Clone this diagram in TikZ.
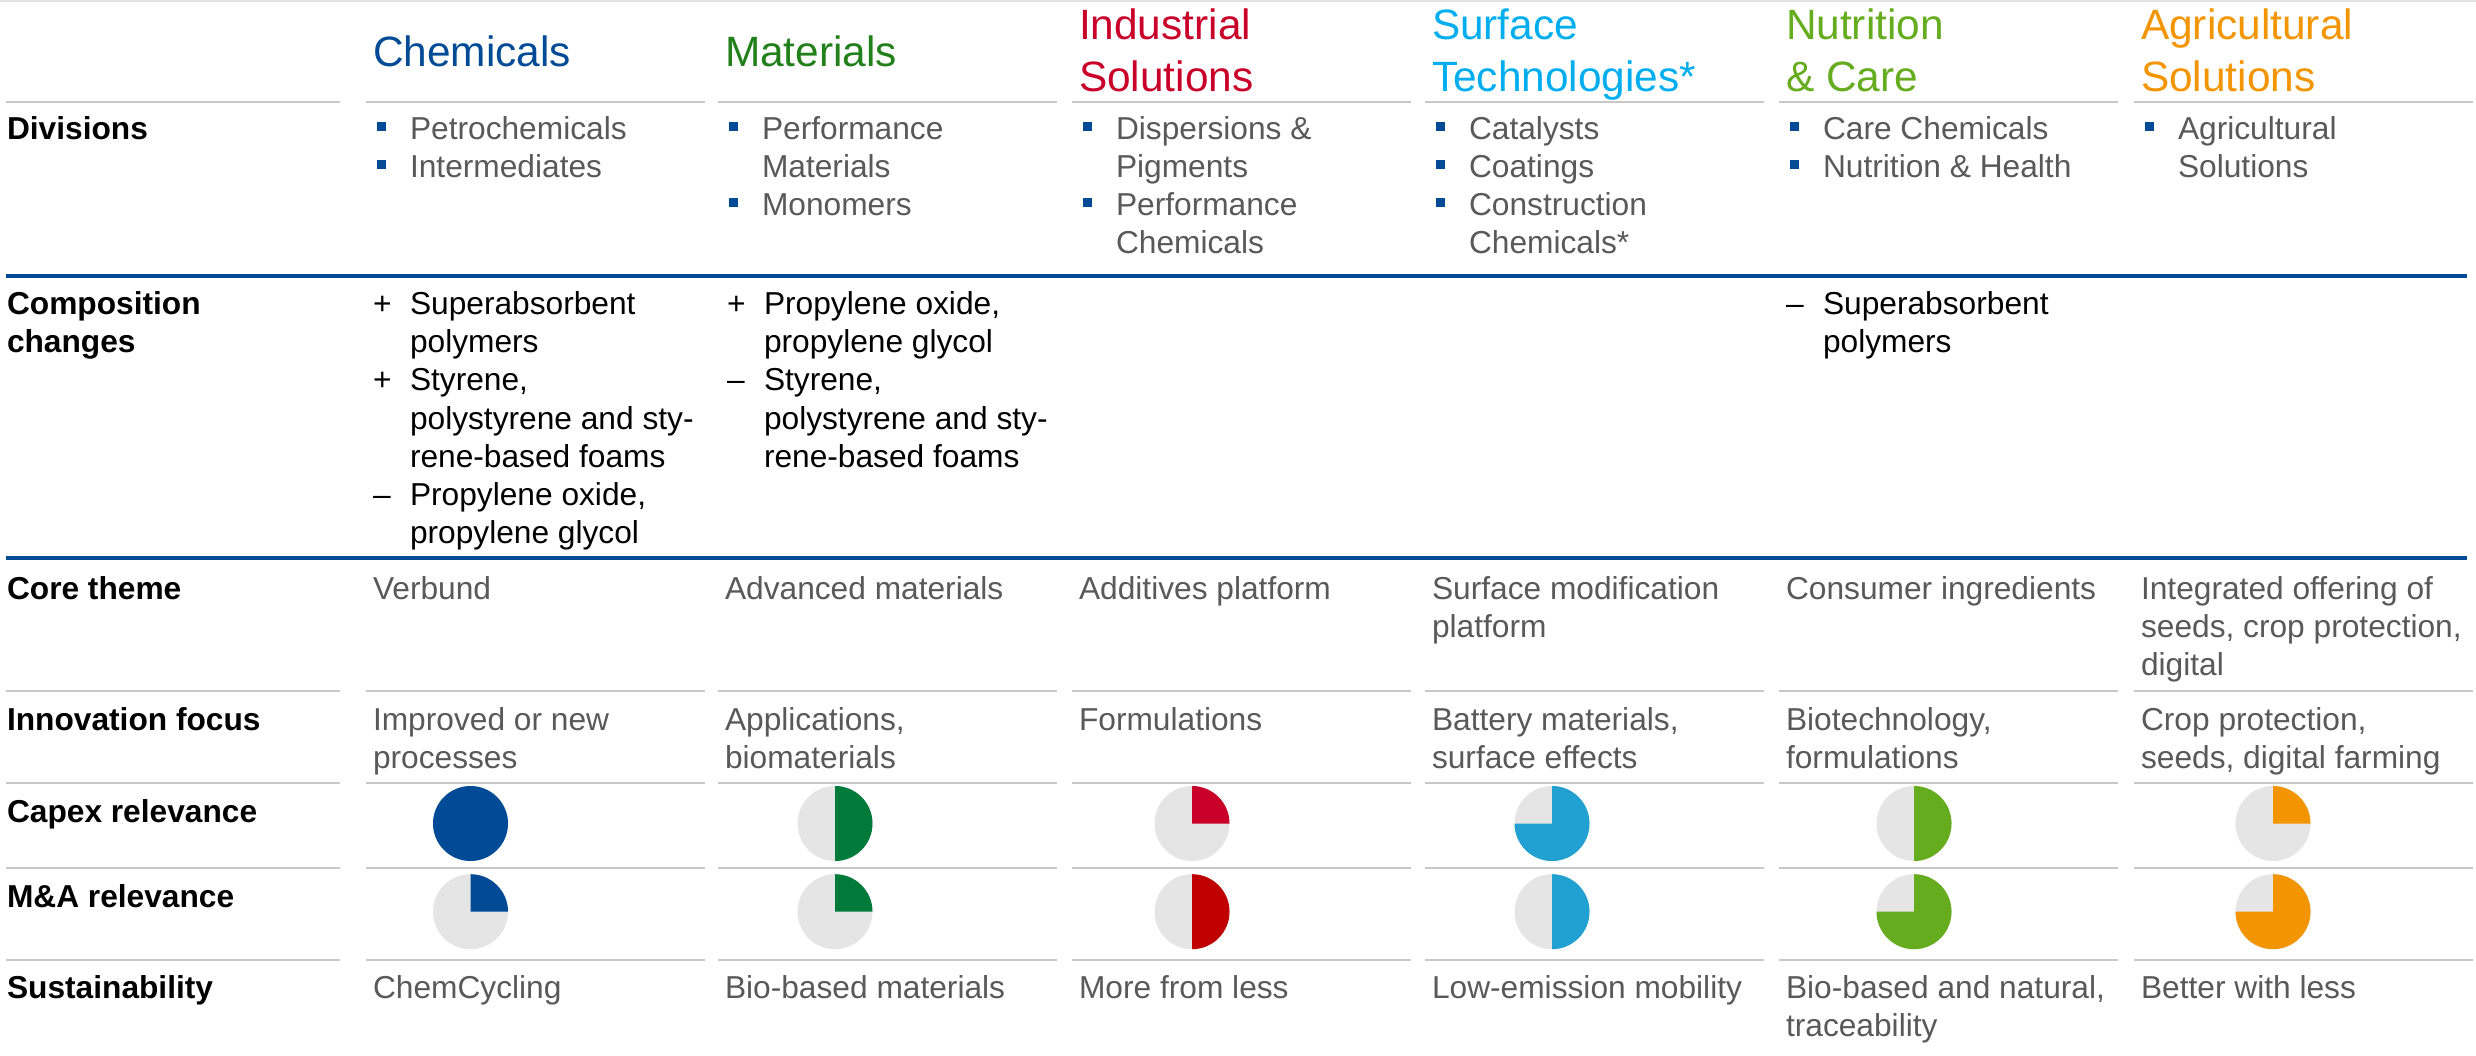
\documentclass[tikz,border=0pt]{standalone}
\usepackage{fontspec}
\setmainfont{Liberation Sans}
\definecolor{basfblue}{HTML}{004A96}
\definecolor{bodygray}{HTML}{595959}
\definecolor{linegray}{HTML}{C8C8C8}
\definecolor{toplinegray}{HTML}{E3E3E3}
\definecolor{piegray}{HTML}{E5E5E5}
\definecolor{hChem}{HTML}{004A96}
\definecolor{hMat}{HTML}{21801A}
\definecolor{pMat}{HTML}{007A3B}
\definecolor{hInd}{HTML}{C8002A}
\definecolor{pIndB}{HTML}{C00000}
\definecolor{hSurf}{HTML}{00AEEF}
\definecolor{pSurf}{HTML}{21A0D2}
\definecolor{hNut}{HTML}{65AC1E}
\definecolor{hAgr}{HTML}{F39500}
\tikzset{
  txt/.style={anchor=base west, inner sep=0pt, outer sep=0pt,
    font=\fontsize{31.7pt}{38pt}\selectfont, text=bodygray},
  blk/.style={txt, text=black},
  lbl/.style={txt, text=black, font=\fontsize{31.7pt}{38pt}\selectfont\bfseries},
  hdr/.style={txt, font=\fontsize{42.4pt}{52pt}\selectfont},
  bul/.style={fill=basfblue, minimum size=9pt, inner sep=0pt, outer sep=0pt, shape=rectangle},
  gline/.style={draw=linegray, line width=1.6pt},
  bline/.style={draw=basfblue, line width=4pt},
}
\newcommand\mlines[6]{\foreach \myline [count=\i] in {#6} {\node[#5] (#2-\i) at ({#3},{#4+(\i-1)*#1}) {\myline};}}
\newcommand\piechart[3]{\begin{scope}[shift={(#1)},x=1pt,y=1pt]
  \fill[piegray] (0,0) circle[radius=37.5];
  \fill[#2] (0,0) -- (90:37.5) arc[start angle=90,end angle=#3,radius=37.5] -- cycle;
\end{scope}}
\begin{document}
\begin{tikzpicture}[x=1pt,y=-1pt]
\useasboundingbox (0,0) rectangle (2476,1056);
\fill[white] (0,0) rectangle (2476,1056);
% top thin line
\draw[draw=toplinegray, line width=1.5pt] (0,0.8) -- (2476,0.8);
% headers
\node[hdr, text=hChem] (hChem) at (373,67) {Chemicals};
\node[hdr, text=hMat] (hMat) at (725,67) {Materials};
\mlines{52}{hInd}{1079}{40}{hdr, text=hInd}{Industrial,Solutions}
\mlines{52}{hSurf}{1432}{40}{hdr, text=hSurf}{Surface,Technologies*}
\mlines{52}{hNut}{1786}{40}{hdr, text=hNut}{Nutrition,\& Care}
\mlines{52}{hAgr}{2141}{40}{hdr, text=hAgr}{Agricultural,Solutions}
% gray separator lines
\foreach \yy in {102,691,783,868,960}{
  \draw[gline] (6,\yy) -- (340,\yy);
  \foreach \xs in {366,718,1072,1425,1779,2134}{
    \draw[gline] (\xs,\yy) -- ({\xs+339},\yy);
  }
}
% blue lines
\draw[bline] (6,276) -- (2467,276);
\draw[bline] (6,558) -- (2467,558);
% row labels
\node[lbl] (lDiv) at (7,140) {Divisions};
\mlines{38}{lComp}{7}{315}{lbl}{Composition,changes}
\node[lbl] (lCore) at (7,599) {Core theme};
\node[lbl] (lInno) at (7,730) {Innovation focus};
\node[lbl] (lCapex) at (7,822) {Capex relevance};
\node[lbl] (lMA) at (7,907) {M\&A relevance};
\node[lbl] (lSust) at (7,998) {Sustainability};
% divisions
\node[bul] (b1a) at (381,127) {}; \node[bul] (b1b) at (381,165) {};
\mlines{38}{d1}{410}{140}{txt}{Petrochemicals,Intermediates}
\node[bul] (b2a) at (733,127) {}; \node[bul] (b2b) at (733,203) {};
\mlines{38}{d2}{762}{140}{txt}{Performance,Materials,Monomers}
\node[bul] (b3a) at (1087,127) {}; \node[bul] (b3b) at (1087,203) {};
\mlines{38}{d3}{1116}{140}{txt}{Dispersions \&,Pigments,Performance,Chemicals}
\node[bul] (b4a) at (1440,127) {}; \node[bul] (b4b) at (1440,165) {}; \node[bul] (b4c) at (1440,203) {};
\mlines{38}{d4}{1469}{140}{txt}{Catalysts,Coatings,Construction,Chemicals*}
\node[bul] (b5a) at (1794,127) {}; \node[bul] (b5b) at (1794,165) {};
\mlines{38}{d5}{1823}{140}{txt}{Care Chemicals,Nutrition \& Health}
\node[bul] (b6a) at (2149,127) {};
\mlines{38}{d6}{2178}{140}{txt}{Agricultural,Solutions}
% composition changes
\node[blk] (s1a) at (373,315) {+};
\node[blk] (s1b) at (373,391) {+};
\node[blk] (s1c) at (373,505) {--};
\mlines{38}{c1}{410}{315}{blk}{Superabsorbent,polymers,{Styrene,},polystyrene and sty-,rene-based foams,{Propylene oxide,},propylene glycol}
\node[blk] (s2a) at (727,315) {+};
\node[blk] (s2b) at (727,391) {--};
\mlines{38}{c2}{764}{315}{blk}{{Propylene oxide,},propylene glycol,{Styrene,},polystyrene and sty-,rene-based foams}
\node[blk] (s5a) at (1786,315) {--};
\mlines{38}{c5}{1823}{315}{blk}{Superabsorbent,polymers}
% core theme
\node[txt] (ct1) at (373,599) {Verbund};
\node[txt] (ct2) at (725,599) {Advanced materials};
\node[txt] (ct3) at (1079,599) {Additives platform};
\mlines{38}{ct4}{1432}{599}{txt}{Surface modification,platform}
\node[txt] (ct5) at (1786,599) {Consumer ingredients};
\mlines{38}{ct6}{2141}{599}{txt}{Integrated offering of,{seeds, crop protection,},digital}
% innovation focus
\mlines{38}{in1}{373}{730}{txt}{Improved or new,processes}
\mlines{38}{in2}{725}{730}{txt}{{Applications,},biomaterials}
\node[txt] (in3) at (1079,730) {Formulations};
\mlines{38}{in4}{1432}{730}{txt}{{Battery materials,},surface effects}
\mlines{38}{in5}{1786}{730}{txt}{{Biotechnology,},formulations}
\mlines{38}{in6}{2141}{730}{txt}{{Crop protection,},{seeds, digital farming}}
% sustainability
\node[txt] (su1) at (373,998) {ChemCycling};
\node[txt] (su2) at (725,998) {Bio-based materials};
\node[txt] (su3) at (1079,998) {More from less};
\node[txt] (su4) at (1432,998) {Low-emission mobility};
\mlines{38}{su5}{1786}{998}{txt}{{Bio-based and natural,},traceability}
\node[txt] (su6) at (2141,998) {Better with less};
% pie centres
\coordinate (cap1) at (470.5,823.5); \coordinate (ma1) at (470.5,911.7);
\coordinate (cap2) at (835,823.5);   \coordinate (ma2) at (835,911.7);
\coordinate (cap3) at (1192,823.5);  \coordinate (ma3) at (1192,911.7);
\coordinate (cap4) at (1552,823.5);  \coordinate (ma4) at (1552,911.7);
\coordinate (cap5) at (1914,823.5);  \coordinate (ma5) at (1914,911.7);
\coordinate (cap6) at (2273,823.5);  \coordinate (ma6) at (2273,911.7);
% capex pies
\piechart{cap1}{hChem}{-270}
\piechart{cap2}{pMat}{-90}
\piechart{cap3}{hInd}{0}
\piechart{cap4}{pSurf}{-180}
\piechart{cap5}{hNut}{-90}
\piechart{cap6}{hAgr}{0}
% M&A pies
\piechart{ma1}{hChem}{0}
\piechart{ma2}{pMat}{0}
\piechart{ma3}{pIndB}{-90}
\piechart{ma4}{pSurf}{-90}
\piechart{ma5}{hNut}{-180}
\piechart{ma6}{hAgr}{-180}
\end{tikzpicture}
\end{document}
